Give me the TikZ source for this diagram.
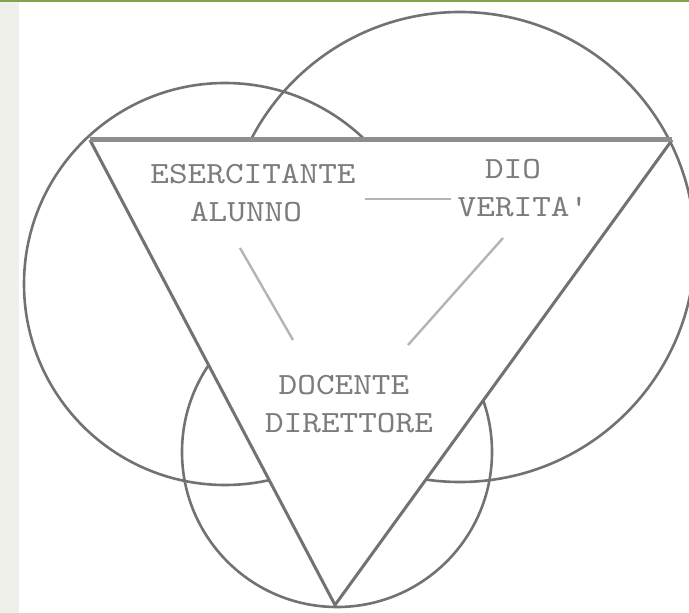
\documentclass[tikz,border=0pt]{standalone}
\usepackage{fontspec}
\newfontfamily\lblfont{lmmono10-regular}[Extension=.otf, FakeStretch=1.15]
\usetikzlibrary{calc}
\definecolor{linegray}{HTML}{727272}
\definecolor{topgray}{HTML}{8E8E8E}
\definecolor{conngray}{HTML}{B4B4B4}
\definecolor{textgray}{HTML}{7C7C7C}
\definecolor{stripgray}{HTML}{F0F0EB}
\definecolor{topgreen}{HTML}{7FA64A}
\tikzset{
  circ/.style={draw=linegray, line width=2.6bp},
  edge/.style={draw=linegray, line width=3bp, line join=round},
  topedge/.style={draw=topgray, line width=5bp},
  conn/.style={draw=conngray, line width=2.4bp},
  lbl/.style={text=textgray, align=center, inner sep=0pt,
    font=\lblfont\fontsize{31}{38}\selectfont}
}
\begin{document}
\begin{tikzpicture}[x=1bp,y=-1bp]
\useasboundingbox (0,0) rectangle (689,613);
\fill[white] (0,0) rectangle (689,613);
\fill[stripgray] (0,0) rectangle (19,613);
\fill[topgreen] (0,0) rectangle (689,2);
\coordinate (A) at (90,140);
\coordinate (B) at (672,140);
\coordinate (C) at (335,605);
\begin{scope}[even odd rule]
  \clip (-10,-10) rectangle (700,620) (A) -- (B) -- (C) -- cycle;
  \draw[circ] (225,284) circle[radius=201];
  \draw[circ] (460,247) circle[radius=235];
  \draw[circ] (337,452) circle[radius=155];
\end{scope}
\draw[edge] (A) -- (C) -- (B);
\draw[topedge] (A) -- (B);
\node[lbl] (ea) at (253,193) {ESERCITANTE\\ALUNNO\hspace*{14bp}};
\node[lbl] (dv) at (513,188) {DIO\\\hspace*{20bp}VERITA'};
\node[lbl] (dd) at (349,404) {DOCENTE\hspace*{10bp}\\DIRETTORE};
\draw[conn] ($(ea)+(112,6)$) -- ($(dv)+(-62,11)$);
\draw[conn] ($(ea)+(-13,55)$) -- ($(dd)+(-56,-64)$);
\draw[conn] ($(dv)+(-10,50)$) -- ($(dd)+(59,-59)$);
\end{tikzpicture}
\end{document}
